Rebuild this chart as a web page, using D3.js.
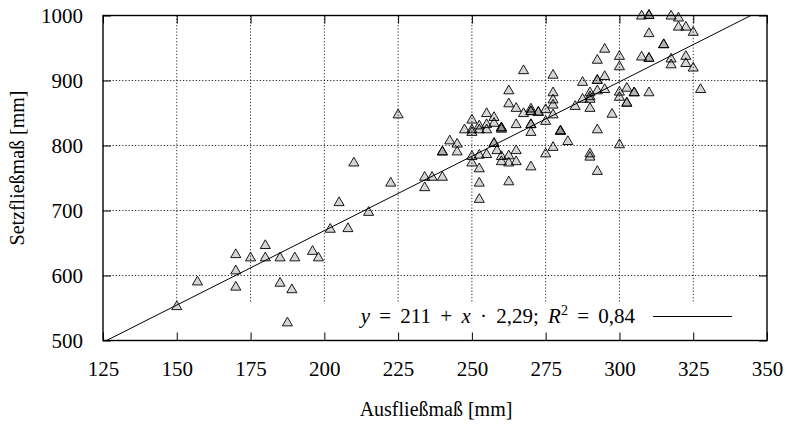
<!DOCTYPE html>
<meta charset="utf-8">
<style>
  body { margin: 0; background: #fff; }
  svg text { font-family: "Liberation Serif", "Times New Roman", "DejaVu Serif", serif !important; fill: #000; }
  .axis path { display: none; }
  .axis line { stroke: #000; stroke-width: 1; }
  .grid line { stroke: #000; stroke-width: 1; stroke-dasharray: 1.2,2; opacity: 0.85; }
</style>
<body>
<svg width="787" height="425"></svg>

<script src="https://cdn.jsdelivr.net/npm/d3@7"></script>
<script>

// Ausfliessmass (x) in mm
var ausfliess = [
  150, 157, 170, 170, 170, 175, 180, 180, 185, 185, 190, 189, 187.5, 196, 198,
  202, 208, 205, 215, 210, 222.5, 225, 234, 234, 236.5, 240, 240, 240,
  242.5, 245, 245, 250, 247.5, 250, 250, 252.5, 252.5, 255, 255, 255,
  257.5, 257.5, 260, 260, 260, 262.5, 262.5, 265, 265, 267.5, 267.5,
  270, 270, 270, 272.5, 272.5, 275, 277.5, 277.5, 277.5, 277.5, 277.5,
  270, 270, 270, 275, 280, 280, 280, 285, 287.5, 287.5, 290, 290, 290, 290,
  292.5, 292.5, 292.5, 292.5, 295, 295, 295, 297.5, 300, 300, 300, 300,
  302.5, 302.5, 302.5, 305, 305, 310, 292.5, 282.5, 277.5, 275, 300, 290, 290, 292.5,
  307.5, 310, 310, 317.5, 320, 320, 322.5, 325, 310, 315, 315,
  307.5, 310, 310, 317.5, 317.5, 322.5, 322.5, 325, 327.5,
  257.5, 257.5, 258.5, 250, 252.5, 255, 260, 260, 262.5, 262.5, 265, 265,
  250, 252.5, 252.5, 262.5, 252.5, 270
];

// Setzfliessmass (y) in mm
var setzfliess = [
  552, 590, 632, 607, 582, 627, 646, 627, 627, 588, 627, 578, 527, 637, 627,
  671, 672, 712, 697, 773, 742, 847, 735, 751, 751, 751, 790, 790,
  807, 802, 790, 839, 824, 824, 820, 830, 824, 849, 832, 824,
  843, 834, 827, 827, 825, 884, 864, 857, 832, 849, 915,
  856, 852, 852, 851, 851, 855, 870, 862, 847, 881, 908,
  832, 832, 820, 837, 822, 822, 822, 860, 871, 897, 857, 881, 875, 871,
  884, 900, 900, 931, 948, 906, 886, 848, 937, 921, 882, 874,
  888, 865, 865, 881, 881, 881, 824, 806, 797, 787, 801, 787, 782, 760,
  999, 1000, 1000, 999, 996, 982, 982, 974, 972, 955, 955,
  936, 934, 934, 933, 924, 937, 926, 919, 886,
  803, 803, 792, 783, 785, 786, 783, 775, 784, 773, 792, 775,
  773, 764, 742, 744, 717, 767
];

var xTicks = [125, 150, 175, 200, 225, 250, 275, 300, 325, 350];
var yTicks = [500, 600, 700, 800, 900, 1000];

// regression y = a + x * b
var fitA = 211, fitB = 2.29;
var fitLabel = ["y", " = 211 + ", "x", " · 2,29; ", "R", "2", " = 0,84"];

var serif = "'Liberation Serif', 'Times New Roman', serif";

var svg = d3.select("svg");
var margin = {top: 15.5, right: 20, bottom: 84.5, left: 103};
var width = 787 - margin.left - margin.right;
var height = 425 - margin.top - margin.bottom;

var x = d3.scaleLinear().domain([125, 350]).range([0, width]);
var y = d3.scaleLinear().domain([500, 1000]).range([height, 0]);

svg.append("defs").append("clipPath")
    .attr("id", "clip")
  .append("rect")
    .attr("width", width)
    .attr("height", height);

var g = svg.append("g")
    .attr("transform", "translate(" + margin.left + "," + margin.top + ")");

// grid, vertical lines stop above the key
var keyTop = 286.5;
var grid = g.append("g").attr("class", "grid");
grid.selectAll(".vg")
    .data(xTicks.slice(1, -1))
  .enter().append("line")
    .attr("x1", x).attr("x2", x)
    .attr("y1", 0).attr("y2", keyTop);
grid.selectAll(".hg")
    .data(yTicks.slice(1, -1))
  .enter().append("line")
    .attr("x1", 0).attr("x2", width)
    .attr("y1", y).attr("y2", y);

// axes with inward ticks
var fmt = d3.format("d");
g.append("g")
    .attr("class", "axis")
    .attr("transform", "translate(0," + height + ")")
    .call(d3.axisBottom(x).tickValues(xTicks).tickSize(-8).tickPadding(21).tickFormat(fmt))
    .attr("font-family", serif).attr("font-size", 21);
g.append("g")
    .attr("class", "axis")
    .call(d3.axisTop(x).tickValues(xTicks).tickSize(-8).tickFormat(""));
g.append("g")
    .attr("class", "axis")
    .call(d3.axisLeft(y).tickValues(yTicks).tickSize(-8).tickPadding(20).tickFormat(fmt))
    .attr("font-family", serif).attr("font-size", 21);
g.append("g")
    .attr("class", "axis")
    .attr("transform", "translate(" + width + ",0)")
    .call(d3.axisRight(y).tickValues(yTicks).tickSize(-8).tickFormat(""));

// regression line
var line = d3.line()
    .x(function(d) { return x(d); })
    .y(function(d) { return y(fitA + fitB * d); });
g.append("path")
    .datum([125, 350])
    .attr("clip-path", "url(#clip)")
    .attr("fill", "none")
    .attr("stroke", "#000")
    .attr("stroke-width", 1)
    .attr("d", line);

// points
var points = ausfliess.map(function(v, i) { return {x: v, y: setzfliess[i]}; });
var tri = d3.symbol().type(d3.symbolTriangle).size(44);
g.append("g")
  .selectAll("path")
    .data(points)
  .enter().append("path")
    .attr("transform", function(d) { return "translate(" + x(d.x) + "," + y(d.y) + ")"; })
    .attr("d", tri)
    .attr("fill", "rgba(0,0,0,0.16)")
    .attr("stroke", "#000")
    .attr("stroke-width", 0.9);

// frame
g.append("rect")
    .attr("width", width)
    .attr("height", height)
    .attr("fill", "none")
    .attr("stroke", "#000")
    .attr("stroke-width", 1.4);

// key
var key = g.append("text")
    .attr("x", 532)
    .attr("y", 307.5)
    .attr("text-anchor", "end")
    .attr("font-family", serif)
    .style("font-size", "21px")
    .style("word-spacing", "4px")
    .style("white-space", "pre");
fitLabel.forEach(function(s, i) {
  var t = key.append("tspan").text(s);
  if (s === "y" || s === "x" || s === "R") t.style("font-style", "italic");
  if (s === "2") t.attr("dy", -8).style("font-size", "14px");
  if (i === 6) t.attr("dy", 8);
});
g.append("line")
    .attr("x1", 550).attr("x2", 629)
    .attr("y1", 301).attr("y2", 301)
    .attr("stroke", "#000");

// axis titles
svg.append("text")
    .attr("x", 436)
    .attr("y", 416)
    .attr("text-anchor", "middle")
    .attr("font-family", serif)
    .style("font-size", "20px")
    .text("Ausfließmaß [mm]");
svg.append("text")
    .attr("transform", "translate(24,168) rotate(-90)")
    .attr("text-anchor", "middle")
    .attr("font-family", serif)
    .style("font-size", "20px")
    .text("Setzfließmaß [mm]");

</script>
</body>
